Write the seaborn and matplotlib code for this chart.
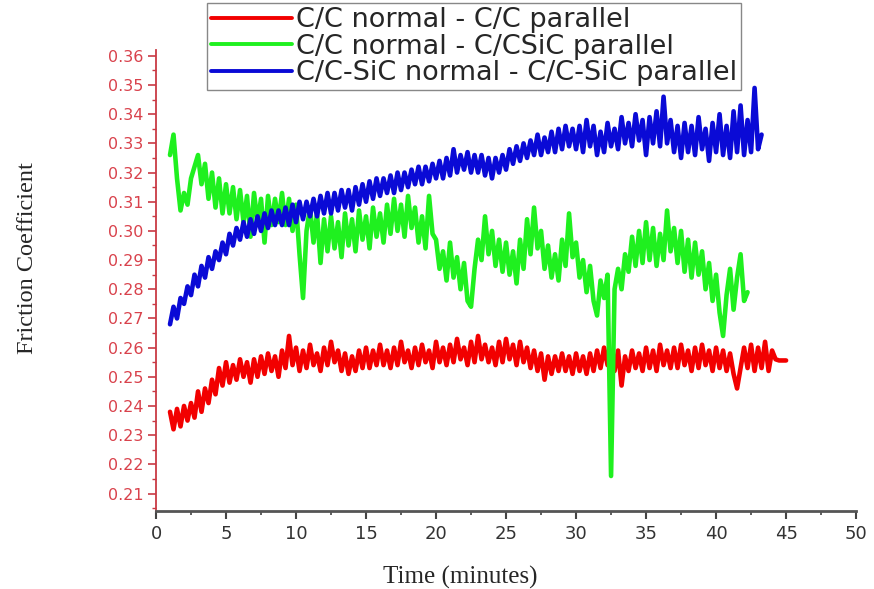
import numpy as np
import pandas as pd
import matplotlib
matplotlib.use("Agg")
import matplotlib.pyplot as plt
import seaborn as sns
from matplotlib.ticker import MultipleLocator

T0 = 1.0
STEP = 0.25

labels = ["C/C normal - C/C parallel",
          "C/C normal - C/CSiC parallel",
          "C/C-SiC normal - C/C-SiC parallel"]
colors = ["#f20000", "#1ff01f", "#0a0ad6"]

# friction coefficient, one row = 2 minutes
red_cof = [
    0.238, 0.232, 0.239, 0.233, 0.240, 0.235, 0.241, 0.236,
    0.245, 0.238, 0.246, 0.241, 0.249, 0.244, 0.253, 0.247,
    0.255, 0.248, 0.254, 0.249, 0.256, 0.250, 0.255, 0.248,
    0.256, 0.250, 0.257, 0.251, 0.258, 0.252, 0.257, 0.250,
    0.259, 0.253, 0.264, 0.254, 0.260, 0.252, 0.259, 0.253,
    0.261, 0.254, 0.258, 0.252, 0.260, 0.254, 0.262, 0.255,
    0.259, 0.252, 0.258, 0.251, 0.257, 0.252, 0.259, 0.253,
    0.260, 0.253, 0.259, 0.254, 0.261, 0.254, 0.259, 0.253,
    0.260, 0.254, 0.262, 0.255, 0.259, 0.253, 0.260, 0.254,
    0.261, 0.255, 0.259, 0.253, 0.262, 0.255, 0.260, 0.254,
    0.261, 0.255, 0.263, 0.256, 0.260, 0.254, 0.262, 0.255,
    0.264, 0.256, 0.261, 0.255, 0.260, 0.254, 0.262, 0.255,
    0.263, 0.256, 0.261, 0.254, 0.262, 0.255, 0.260, 0.253,
    0.259, 0.252, 0.258, 0.249, 0.257, 0.251, 0.257, 0.252,
    0.258, 0.252, 0.257, 0.251, 0.258, 0.252, 0.257, 0.251,
    0.258, 0.252, 0.259, 0.253, 0.260, 0.254, 0.258, 0.252,
    0.259, 0.247, 0.257, 0.252, 0.259, 0.253, 0.258, 0.252,
    0.260, 0.253, 0.259, 0.252, 0.261, 0.254, 0.259, 0.253,
    0.260, 0.253, 0.261, 0.254, 0.259, 0.252, 0.260, 0.253,
    0.261, 0.254, 0.259, 0.252, 0.260, 0.253, 0.259, 0.252,
    0.258, 0.251, 0.246, 0.253, 0.260, 0.253, 0.261, 0.252,
    0.260, 0.253, 0.262, 0.252, 0.259, 0.256, 0.2556, 0.2556,
    0.2556,
]

green_cof = [
    0.326, 0.333, 0.318, 0.307, 0.313, 0.309, 0.318, 0.322,
    0.326, 0.316, 0.323, 0.311, 0.320, 0.308, 0.318, 0.306,
    0.316, 0.306, 0.315, 0.304, 0.314, 0.303, 0.312, 0.298,
    0.313, 0.303, 0.311, 0.296, 0.312, 0.302, 0.311, 0.303,
    0.313, 0.302, 0.311, 0.300, 0.309, 0.292, 0.277, 0.300,
    0.308, 0.296, 0.306, 0.289, 0.304, 0.293, 0.305, 0.294,
    0.303, 0.291, 0.306, 0.295, 0.304, 0.293, 0.307, 0.297,
    0.305, 0.294, 0.308, 0.298, 0.306, 0.296, 0.309, 0.299,
    0.311, 0.300, 0.309, 0.298, 0.312, 0.301, 0.308, 0.296,
    0.305, 0.294, 0.312, 0.299, 0.297, 0.287, 0.293, 0.283,
    0.296, 0.284, 0.291, 0.280, 0.289, 0.276, 0.274, 0.287,
    0.297, 0.290, 0.305, 0.292, 0.300, 0.288, 0.297, 0.286,
    0.296, 0.285, 0.293, 0.282, 0.297, 0.287, 0.304, 0.292,
    0.308, 0.294, 0.300, 0.287, 0.295, 0.284, 0.292, 0.283,
    0.297, 0.288, 0.306, 0.291, 0.296, 0.284, 0.290, 0.279,
    0.288, 0.276, 0.271, 0.283, 0.277, 0.285, 0.216, 0.280,
    0.287, 0.280, 0.292, 0.286, 0.298, 0.288, 0.300, 0.289,
    0.303, 0.290, 0.301, 0.288, 0.299, 0.290, 0.307, 0.293,
    0.301, 0.289, 0.300, 0.286, 0.297, 0.284, 0.296, 0.285,
    0.293, 0.280, 0.289, 0.276, 0.285, 0.272, 0.264, 0.278,
    0.287, 0.273, 0.284, 0.292, 0.276, 0.279,
]

blue_cof = [
    0.268, 0.274, 0.270, 0.277, 0.275, 0.281, 0.278, 0.285,
    0.281, 0.288, 0.284, 0.291, 0.287, 0.293, 0.290, 0.296,
    0.292, 0.299, 0.295, 0.301, 0.297, 0.303, 0.298, 0.304,
    0.299, 0.305, 0.300, 0.306, 0.301, 0.307, 0.302, 0.307,
    0.302, 0.308, 0.302, 0.309, 0.303, 0.310, 0.304, 0.310,
    0.305, 0.311, 0.305, 0.312, 0.306, 0.313, 0.306, 0.313,
    0.307, 0.314, 0.308, 0.314, 0.307, 0.315, 0.309, 0.316,
    0.310, 0.317, 0.311, 0.318, 0.312, 0.318, 0.313, 0.319,
    0.313, 0.320, 0.314, 0.320, 0.315, 0.321, 0.316, 0.322,
    0.316, 0.322, 0.317, 0.323, 0.318, 0.324, 0.318, 0.325,
    0.319, 0.328, 0.320, 0.326, 0.321, 0.327, 0.320, 0.326,
    0.320, 0.326, 0.319, 0.325, 0.318, 0.325, 0.320, 0.326,
    0.321, 0.328, 0.323, 0.329, 0.324, 0.330, 0.325, 0.331,
    0.326, 0.333, 0.326, 0.332, 0.327, 0.334, 0.327, 0.335,
    0.328, 0.336, 0.329, 0.335, 0.328, 0.336, 0.327, 0.338,
    0.329, 0.336, 0.326, 0.334, 0.327, 0.337, 0.329, 0.335,
    0.328, 0.339, 0.330, 0.337, 0.329, 0.340, 0.331, 0.338,
    0.326, 0.339, 0.330, 0.341, 0.329, 0.346, 0.330, 0.338,
    0.327, 0.336, 0.325, 0.337, 0.327, 0.336, 0.326, 0.339,
    0.328, 0.335, 0.324, 0.337, 0.327, 0.340, 0.326, 0.336,
    0.325, 0.341, 0.327, 0.343, 0.326, 0.338, 0.327, 0.349,
    0.328, 0.333,
]

series = [red_cof, green_cof, blue_cof]

frames = []
for lab, vals in zip(labels, series):
    t = T0 + STEP * np.arange(len(vals))
    frames.append(pd.DataFrame({"time": t, "cof": vals, "pair": lab}))
df = pd.concat(frames, ignore_index=True)

sns.set_style("ticks")
fig = plt.figure(figsize=(8.74, 5.89), dpi=100)
ax = fig.add_axes([0.1785, 0.1324, 0.801, 0.7827])

sns.lineplot(data=df, x="time", y="cof", hue="pair", hue_order=labels,
             palette=colors, estimator=None, sort=False, linewidth=3.3, ax=ax)

ax.set_xlim(0, 50)
ax.set_ylim(0.204, 0.362)
ax.xaxis.set_major_locator(MultipleLocator(5))
ax.xaxis.set_minor_locator(MultipleLocator(2.5))
ax.yaxis.set_major_locator(MultipleLocator(0.01))
ax.yaxis.set_minor_locator(MultipleLocator(0.005))
ax.yaxis.set_major_formatter(matplotlib.ticker.FormatStrFormatter("%.2f"))

spine_red = "#c93a44"
for s in ["top", "right"]:
    ax.spines[s].set_visible(False)
ax.spines["left"].set_color(spine_red)
ax.spines["left"].set_linewidth(1.3)
ax.spines["bottom"].set_color("#555555")
ax.spines["bottom"].set_linewidth(2.0)

ax.tick_params(axis="y", which="major", direction="out", length=6, width=1.2,
               color=spine_red, labelcolor="#d9424c", labelsize=11.5, pad=3)
ax.tick_params(axis="y", which="minor", direction="out", length=3, width=1.0, color=spine_red)
ax.tick_params(axis="x", which="major", direction="out", length=6, width=1.5,
               color="#444444", labelcolor="#333333", labelsize=13, pad=4)
ax.tick_params(axis="x", which="minor", direction="out", length=3, width=1.2, color="#444444")
for lbl in ax.get_xticklabels() + ax.get_yticklabels():
    lbl.set_family("DejaVu Sans")

ax.set_xlabel("Time (minutes)", family="Liberation Serif", fontsize=18)
ax.set_ylabel("Friction Coefficient", family="Liberation Serif", fontsize=17.5, va="center")
ax.xaxis.set_label_coords(0.434, -0.118)
ax.yaxis.set_label_coords(-0.184, 0.549)

handles, _ = ax.get_legend_handles_labels()
ax.get_legend().remove()
leg = fig.legend(handles, labels, loc="upper left",
                 bbox_to_anchor=(207 / 874, 1 - 3 / 589),
                 prop={"family": "DejaVu Sans", "size": 19.5},
                 frameon=True, fancybox=False, framealpha=1, edgecolor="#888888",
                 handlelength=3.0, handletextpad=0.12, labelspacing=0.02,
                 borderpad=0.15, borderaxespad=0)
leg.get_frame().set_linewidth(1.0)
for line in leg.get_lines():
    line.set_linewidth(2.8)

fig.savefig("out.png", dpi=100)
